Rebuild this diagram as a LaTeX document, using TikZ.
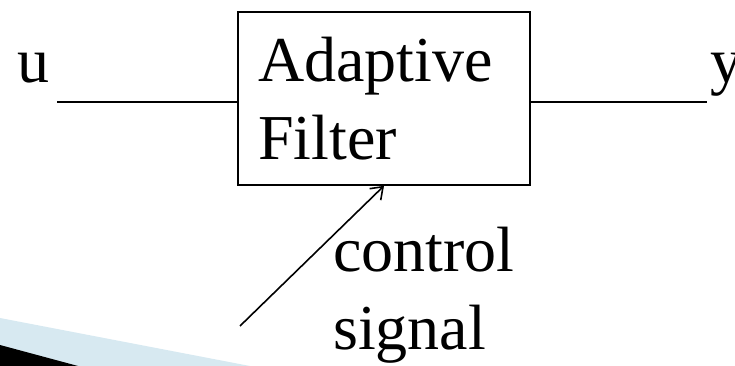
\documentclass[tikz,border=0pt]{standalone}
\usepackage{fontspec}
\setmainfont{Liberation Serif}
\usetikzlibrary{arrows.meta}
\definecolor{wedgeblue}{HTML}{D7E9F1}
\begin{document}
\begin{tikzpicture}[x=1pt,y=1pt,
  lbl/.style={inner sep=0pt,anchor=base west,font=\fontsize{64}{77}\selectfont},
  wire/.style={line width=1.6pt},
  boxstyle/.style={draw,line width=1.6pt,minimum width=292pt,minimum height=173pt,inner sep=0pt}]
\useasboundingbox (0,0) rectangle (735,366);
% decorative wedges
\fill[wedgeblue] (0,48) -- (250,0) -- (0,0) -- cycle;
\fill[black] (0,21) -- (78,0) -- (0,0) -- cycle;
% block
\node[boxstyle] (box) at (384,267.5) {};
\node[lbl] (t1) at (258,284) {Adaptive};
\node[lbl] (t2) at (258,206) {Filter};
% input / output
\node[lbl] (u) at (17,283) {u};
\node[lbl] (y) at (710,283) {y};
\coordinate (uin) at (57,264);
\coordinate (yout) at (707,264);
\draw[wire] (uin) -- (uin -| box.west);
\draw[wire] (yout -| box.east) -- (yout);
% control signal
\coordinate (cs) at (240,40);
\draw[wire,-{Straight Barb[length=11pt,width=16pt]}] (cs) -- (box.south);
\node[lbl] (c1) at (333,94) {control};
\node[lbl] (c2) at (333,16) {signal};
\end{tikzpicture}
\end{document}
